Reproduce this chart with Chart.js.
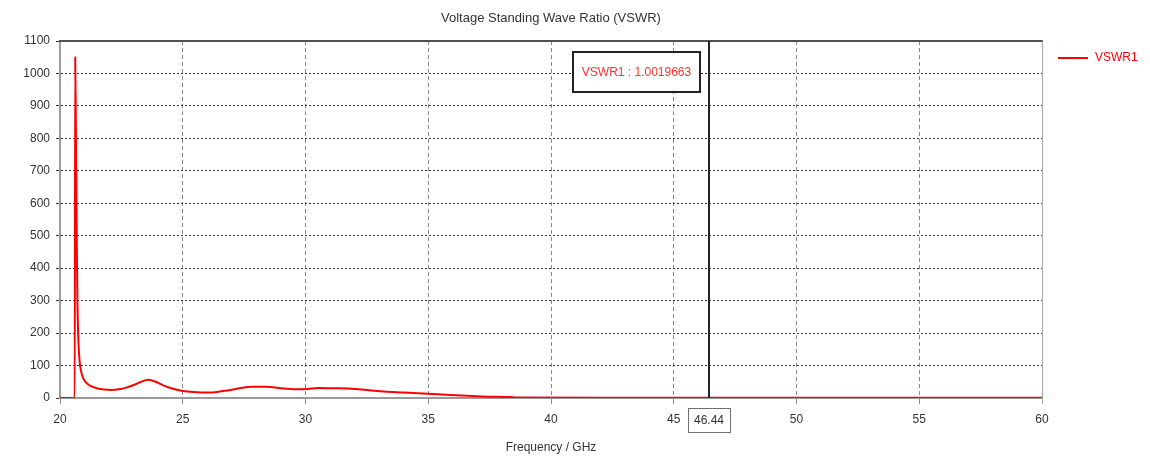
<!DOCTYPE html>
<html>
<head>
<meta charset="utf-8">
<title>Voltage Standing Wave Ratio (VSWR)</title>
<script src="https://cdn.jsdelivr.net/npm/chart.js@4.4.1/dist/chart.umd.min.js"></script>
<style>
  html, body { margin: 0; padding: 0; background: #ffffff; }
  #wrap { width: 1150px; height: 457px; }
</style>
</head>
<body>
<div id="wrap"><canvas id="vswr" width="1150" height="457"></canvas></div>
<script>
// Sweep frequencies (GHz) and VSWR readings for port 1
const frequencyGHz = [
  20.0, 20.3, 20.58, 20.6, 20.62, 20.65, 20.68, 20.71, 20.75, 20.8, 20.86, 20.93,
  21.02, 21.2, 21.5, 21.8, 22.1, 22.4, 22.7, 23.0, 23.3, 23.6, 23.9, 24.2,
  24.5, 24.9, 25.3, 25.8, 26.3, 26.8, 27.3, 27.8, 28.4, 29.0, 29.6, 30.1,
  30.5, 31.2, 32.0, 32.6, 33.2, 34.0, 35.0, 35.9, 36.8, 37.6, 38.4, 38.5,
  42.0, 46.44, 50.0, 55.0, 60.0
];
const vswrValues = [
  0, 0, 0, 0, 1050, 800, 500, 300, 175, 112, 82, 64,
  51, 39, 30, 26, 25, 27, 32, 40, 50, 56, 50, 39,
  31, 23, 19, 17, 18, 23, 30, 35, 35, 30, 27, 28,
  31, 30, 28, 24, 20, 17, 13, 9, 6, 4, 3, 1.2,
  1.05, 1.0019663, 1.05, 1.1, 1.1
];

// Axis ranges and tick spacing
const xAxisRange = [20, 60];
const xTickStep = 5;
const yAxisRange = [0, 1100];
const yTickStep = 100;

// Marker placed on the sweep
const seriesName = 'VSWR1';
const markerFreq = 46.44;
const markerValue = 1.0019663;

const chartTitle = 'Voltage Standing Wave Ratio (VSWR)';
const xAxisTitle = 'Frequency / GHz';

const FONT = '"Liberation Sans", Arial, sans-serif';
const TEXT_COLOR = '#333333';

const points = frequencyGHz.map((f, i) => ({ x: f, y: vswrValues[i] }));

const decorations = {
  id: 'decorations',
  afterDatasetsDraw(chart) {
    const { ctx, chartArea: a, scales } = chart;
    const xs = scales.x;
    ctx.save();

    // frame: dark top edge, light right edge
    ctx.lineWidth = 2;
    ctx.strokeStyle = '#505050';
    ctx.beginPath();
    ctx.moveTo(a.left - 1, a.top);
    ctx.lineTo(a.right + 1, a.top);
    ctx.stroke();
    ctx.lineWidth = 1;
    ctx.strokeStyle = '#a8a8a8';
    ctx.beginPath();
    ctx.moveTo(a.right + 0.5, a.top);
    ctx.lineTo(a.right + 0.5, a.bottom + 6);
    ctx.stroke();

    // marker line
    const mx = Math.round(xs.getPixelForValue(markerFreq));
    ctx.lineWidth = 2;
    ctx.strokeStyle = '#222222';
    ctx.beginPath();
    ctx.moveTo(mx, a.top);
    ctx.lineTo(mx, a.bottom);
    ctx.stroke();

    // marker readout box
    ctx.font = '12px ' + FONT;
    const label = seriesName + ' : ' + markerValue.toString();
    const tw = ctx.measureText(label).width;
    const bw = Math.round(tw + 18);
    const bh = 40;
    const bx = mx - 9 - bw;
    const by = 52;
    ctx.fillStyle = '#ffffff';
    ctx.fillRect(bx, by, bw, bh);
    ctx.lineWidth = 2;
    ctx.strokeStyle = '#222222';
    ctx.strokeRect(bx, by, bw, bh);
    ctx.fillStyle = '#ff3030';
    ctx.textAlign = 'center';
    ctx.textBaseline = 'middle';
    ctx.fillText(label, bx + bw / 2, by + bh / 2 + 1);

    // marker frequency box on the x axis
    const fl = markerFreq.toFixed(2);
    const fw = Math.round(ctx.measureText(fl).width + 12);
    ctx.fillStyle = '#ffffff';
    ctx.fillRect(mx - fw / 2, 408, fw, 25);
    ctx.lineWidth = 1;
    ctx.strokeStyle = '#707070';
    ctx.strokeRect(mx - fw / 2 + 0.5, 408.5, fw, 24);
    ctx.fillStyle = TEXT_COLOR;
    ctx.fillText(fl, mx, 421);

    // titles
    ctx.fillStyle = TEXT_COLOR;
    ctx.fillText(xAxisTitle, (a.left + a.right) / 2, 448);
    ctx.font = '13px ' + FONT;
    ctx.fillText(chartTitle, 551, 18);

    // legend
    ctx.font = '12px ' + FONT;
    const ds = chart.data.datasets[0];
    ctx.strokeStyle = ds.borderColor;
    ctx.lineWidth = 2;
    ctx.beginPath();
    ctx.moveTo(1058, 58);
    ctx.lineTo(1088, 58);
    ctx.stroke();
    ctx.fillStyle = ds.borderColor;
    ctx.textAlign = 'left';
    ctx.fillText(ds.label, 1095, 58);

    ctx.restore();
  }
};

new Chart(document.getElementById('vswr'), {
  type: 'line',
  data: {
    datasets: [{
      label: seriesName,
      data: points,
      borderColor: '#ff0000',
      borderWidth: 2,
      pointRadius: 0,
      cubicInterpolationMode: 'monotone',
      fill: false
    }]
  },
  options: {
    responsive: false,
    animation: false,
    layout: { padding: { top: 41, right: 108, left: 0, bottom: 0 } },
    plugins: {
      legend: { display: false },
      title: { display: false },
      tooltip: { enabled: false }
    },
    scales: {
      x: {
        type: 'linear',
        min: xAxisRange[0],
        max: xAxisRange[1],
        afterFit(s) { s.height = 59; },
        ticks: {
          stepSize: xTickStep,
          padding: 8,
          color: TEXT_COLOR,
          font: { family: FONT, size: 12 },
          maxRotation: 0,
          callback: (v) => String(v)
        },
        grid: {
          color: '#8a8a8a',
          lineWidth: 1,
          tickLength: 6,
          tickColor: '#8a8a8a'
        },
        border: { color: '#9a9a9a', width: 2, dash: [4, 3] }
      },
      y: {
        min: yAxisRange[0],
        max: yAxisRange[1],
        afterFit(s) { s.width = 60; },
        ticks: {
          stepSize: yTickStep,
          padding: 6,
          color: TEXT_COLOR,
          font: { family: FONT, size: 12 },
          callback: (v) => String(v)
        },
        grid: {
          color: '#333333',
          lineWidth: 1,
          tickLength: 4,
          tickColor: '#333333'
        },
        border: { color: '#9a9a9a', width: 2, dash: [2, 2] }
      }
    }
  },
  plugins: [decorations]
});
</script>
</body>
</html>
